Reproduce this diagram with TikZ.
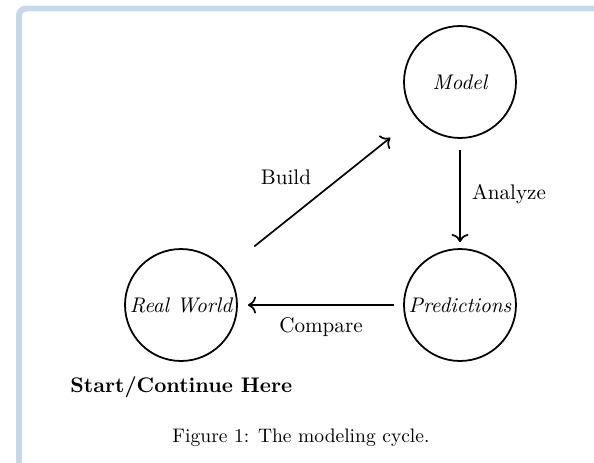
\documentclass[tikz,border=0pt]{standalone}
\usetikzlibrary{arrows.meta}
\definecolor{framecol}{RGB}{197,217,236}
\newcommand{\bigtxt}[1]{\scalebox{1.2}{#1}}
\begin{document}
\begin{tikzpicture}[x=0.568pt,y=-0.568pt,
  stage/.style={circle,draw,line width=1pt,inner sep=0pt,minimum size=63.6pt,font=\fontsize{10}{12}\selectfont\itshape},
  flow/.style={-{To[scale=1.25]},line width=0.95pt},
  lbl/.style={anchor=base,inner sep=0pt,font=\fontsize{10}{12}\selectfont}]
\useasboundingbox (0,0) rectangle (594,463);
\draw[framecol,line width=3.4pt,rounded corners=4pt] (19,470) -- (19,8.5) -- (600,8.5);
\node[stage] (model) at (460,82) {\bigtxt{Model}};
\node[stage] (real) at (181,305) {\bigtxt{Real World}};
\node[stage] (pred) at (460,305) {\bigtxt{Predictions}};
\draw[flow,shorten <=21pt,shorten >=18.4pt] (real) -- (model);
\draw[flow,shorten <=6.5pt,shorten >=3.4pt] (model) -- (pred);
\draw[flow,shorten <=5pt,shorten >=5.7pt] (pred) -- (real);
\node[lbl] (build) at (286,184) {\bigtxt{Build}};
\node[lbl] (analyze) at (509,199) {\bigtxt{Analyze}};
\node[lbl] (compare) at (321,332) {\bigtxt{Compare}};
\node[anchor=base west,inner sep=0pt,font=\fontsize{10}{12}\selectfont\bfseries] (start) at (70,392) {\bigtxt{Start/Continue Here}};
\node[anchor=base,inner sep=0pt,font=\fontsize{10}{12}\selectfont] (cap) at (301,442) {\scalebox{1.11}{Figure 1: The modeling cycle.}};
\end{tikzpicture}
\end{document}
